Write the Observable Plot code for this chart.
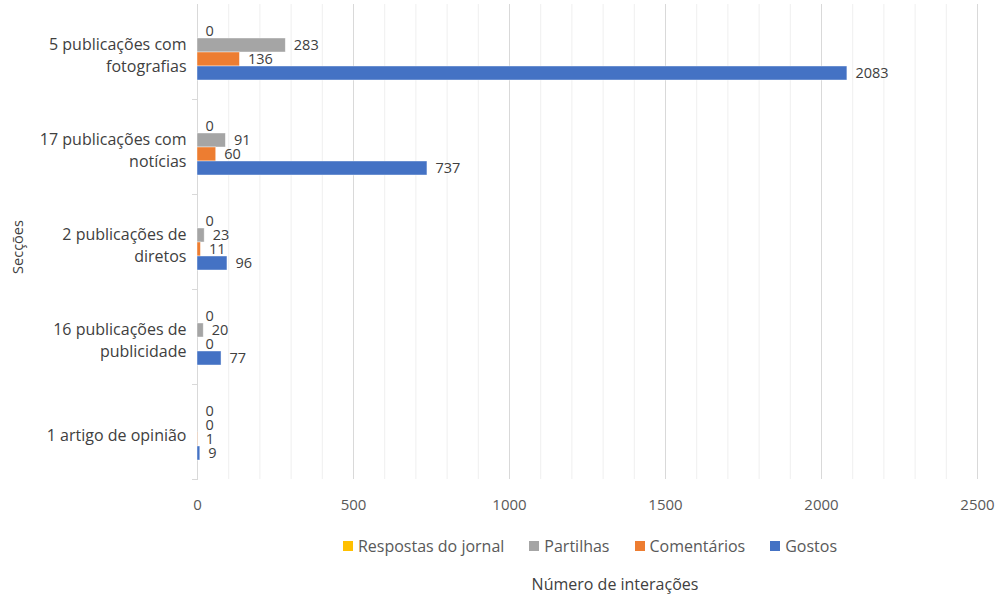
<!DOCTYPE html>
<html>
<head>
<meta charset="utf-8">
<script src="https://cdn.jsdelivr.net/npm/d3@7"></script>
<script src="https://cdn.jsdelivr.net/npm/@observablehq/plot@0.6"></script>
<style>
  body { margin: 0; background: #fff; font-family: "Open Sans", sans-serif; }
  svg text { font-variant-ligatures: none; }
  #legend { display: flex; justify-content: center; gap: 25px; margin-left: 185px; margin-top: 17px; font-size: 16px; color: #595959; height: 18px; align-items: center; }
  #legend span.item { display: flex; align-items: center; gap: 5px; }
  #legend span.sw { width: 10px; height: 10px; display: inline-block; }
  #xtitle { text-align: center; margin-left: 235px; margin-top: 18px; font-size: 16px; color: #404040; }
</style>
</head>
<body>
<div id="chart"></div>
<div id="legend"></div>
<div id="xtitle">Número de interações</div>
<script>
const categories = [
  "5 publicações com\nfotografias",
  "17 publicações com\nnotícias",
  "2 publicações de\ndiretos",
  "16 publicações de\npublicidade",
  "1 artigo de opinião"
];
const series = ["Respostas do jornal", "Partilhas", "Comentários", "Gostos"];
const respostas = [0, 0, 0, 0, 0];
const partilhas = [283, 91, 23, 20, 0];
const comentarios = [136, 60, 11, 0, 1];
const gostos = [2083, 737, 96, 77, 9];
const colors = ["#FFC000", "#A5A5A5", "#ED7D31", "#4472C4"];
const xTicks = [0, 500, 1000, 1500, 2000, 2500];
const minorTicks = d3.range(100, 2501, 100).filter(v => v % 500 !== 0);

const valuesBySeries = [respostas, partilhas, comentarios, gostos];
const data = [];
categories.forEach((c, i) => {
  series.forEach((s, j) => data.push({cat: c, series: s, value: valuesBySeries[j][i]}));
});

const chart = Plot.plot({
  width: 995,
  height: 520,
  marginLeft: 197,
  marginRight: 18,
  marginTop: 3,
  marginBottom: 40,
  style: {fontFamily: "'Open Sans', sans-serif", fontSize: "14px", color: "#404040", background: "#fff"},
  x: {domain: [0, 2500], label: null},
  fy: {domain: categories, padding: 0, label: null, axis: null},
  y: {domain: series, paddingInner: 0, paddingOuter: 1.28, axis: null},
  color: {domain: series, range: colors},
  marks: [
    Plot.gridX(minorTicks, {stroke: "#efefef", strokeOpacity: 1}),
    Plot.gridX(xTicks.slice(1), {stroke: "#d9d9d9", strokeOpacity: 1}),
    Plot.frame({anchor: "left", stroke: "#d9d9d9"}),
    Plot.barX(data, {x: "value", y: "series", fy: "cat", fill: "series", stroke: "white", strokeWidth: 0.7, strokeOpacity: 0.6}),
    Plot.text(data, {x: "value", y: "series", fy: "cat", text: d => String(d.value), dx: 8, textAnchor: "start", fill: "#404040", fontSize: 14.5}),
    Plot.axisX(xTicks, {tickSize: 0, tickPadding: 20, tickFormat: d => String(d), fill: "#595959", fontSize: 15, label: null}),
    Plot.text(categories, {fy: d => d, text: d => d, frameAnchor: "left", textAnchor: "end", dx: -11, dy: 2, fontSize: 16, fill: "#404040", lineHeight: 1.4}),
    Plot.axisFy({anchor: "left", tickSize: 5, tickFormat: () => "", stroke: "#d9d9d9", dy: 47.5, label: null}),
    Plot.text(["Secções"], {frameAnchor: "left", textAnchor: "middle", dx: -179, dy: 5, rotate: -90, fontSize: 14.5, fill: "#404040", facet: "super"})
  ]
});
document.getElementById("chart").appendChild(chart);

const legend = document.getElementById("legend");
series.forEach((s, i) => {
  const item = document.createElement("span");
  item.className = "item";
  const sw = document.createElement("span");
  sw.className = "sw";
  sw.style.background = colors[i];
  const t = document.createElement("span");
  t.textContent = s;
  item.appendChild(sw);
  item.appendChild(t);
  legend.appendChild(item);
});
</script>
</body>
</html>
